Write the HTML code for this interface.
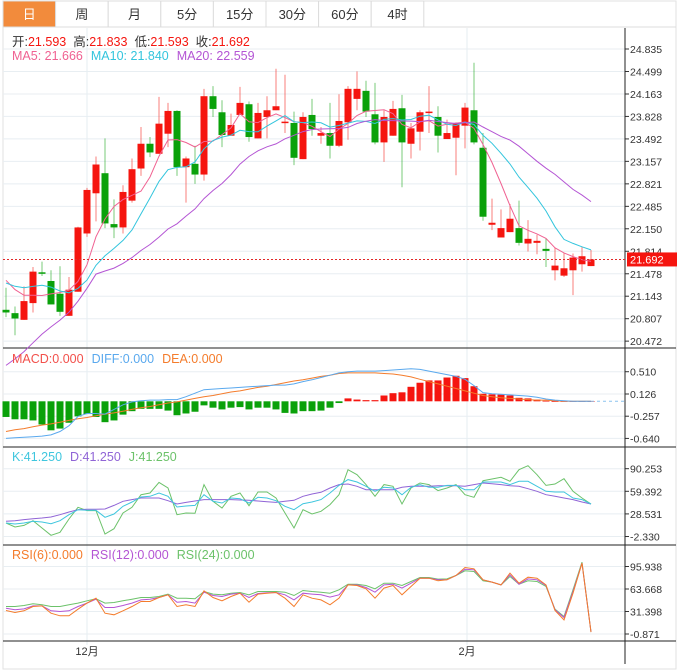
<!DOCTYPE html>
<html><head><meta charset="utf-8">
<style>
body{margin:0;background:#fff;font-family:"Liberation Sans","Noto Sans CJK SC",sans-serif;}
svg{display:block}
text{font-family:"Liberation Sans","Noto Sans CJK SC",sans-serif;}
</style></head><body>
<svg id="chart" width="678" height="672" viewBox="0 0 678 672" xmlns="http://www.w3.org/2000/svg">
<rect x="3" y="1" width="673" height="668" fill="#fff" stroke="#e2e2e2"/>
<g id="tabs"></g>
<g id="grid"></g>
<g id="marks"></g>
<g id="labels"></g>
</svg>
<script>
// ---- data ----
const prevCloses=[18.88,18.88,18.88,18.88,18.88,18.88,18.88,18.88,18.88,18.88,21.3,21.3,21.3,21.3,21.3,21.5,21.5,21.5,21.5];
const opens=[20.94,20.89,20.79,21.04,21.50,21.37,21.18,20.85,21.21,22.08,22.68,22.98,22.22,22.17,22.57,23.05,23.42,23.27,23.57,23.91,23.07,23.12,22.96,24.13,23.89,23.54,23.85,24.01,23.50,23.82,23.92,23.73,23.73,23.19,23.85,23.54,23.58,23.39,23.74,24.09,24.21,23.86,23.44,23.54,23.95,23.42,23.60,23.88,23.82,23.49,23.51,23.69,23.92,23.36,22.21,22.02,22.10,22.16,21.93,21.94,21.85,21.53,21.45,21.53,21.62,21.593];
const highs=[21.27,20.99,21.29,21.58,21.66,21.53,21.59,21.43,22.18,22.76,23.23,23.50,22.59,22.80,23.20,23.67,23.52,24.12,24.03,23.92,23.23,23.39,24.24,24.28,24.07,23.87,24.27,24.05,24.03,24.13,24.54,24.45,23.90,23.89,24.09,23.67,24.03,24.16,24.28,24.50,24.36,24.33,23.92,24.06,24.15,23.73,23.92,24.28,23.98,23.78,23.74,24.03,24.63,23.58,22.60,22.44,22.52,22.57,22.28,22.06,22.01,21.87,21.79,21.78,21.88,21.833];
const lows=[20.83,20.56,20.79,20.90,21.445,21.02,20.85,20.85,21.21,22.03,22.26,22.16,22.01,22.08,22.54,22.94,23.22,23.27,23.37,22.94,22.54,22.82,22.87,23.82,23.37,23.54,23.85,23.45,23.50,23.50,23.92,23.58,23.10,23.19,23.54,23.42,23.20,23.37,23.48,23.92,23.82,23.41,23.15,23.54,22.77,23.20,23.32,23.58,23.29,23.49,22.95,23.35,23.41,22.27,22.13,22.02,22.10,21.90,21.81,21.77,21.58,21.38,21.43,21.16,21.51,21.593];
const closes=[20.90,20.81,21.07,21.51,21.48,21.02,20.91,21.24,22.17,22.73,23.11,22.23,22.17,22.70,23.04,23.42,23.29,23.72,23.91,23.07,23.20,22.96,24.13,23.94,23.55,23.70,24.03,23.52,23.88,23.92,23.98,23.75,23.21,23.82,23.64,23.58,23.39,23.76,24.24,24.24,23.90,23.44,23.82,23.94,23.44,23.65,23.89,23.90,23.54,23.58,23.73,23.96,23.44,22.33,22.24,22.16,22.30,21.94,22.00,21.97,21.82,21.60,21.56,21.72,21.74,21.692];
const priceTicks=["24.835","24.499","24.163","23.828","23.492","23.157","22.821","22.485","22.150","21.814","21.478","21.143","20.807","20.472"];
const macdHist=[-0.27,-0.31,-0.31,-0.33,-0.40,-0.50,-0.47,-0.37,-0.26,-0.22,-0.27,-0.36,-0.33,-0.23,-0.17,-0.13,-0.13,-0.13,-0.16,-0.24,-0.21,-0.18,-0.07,-0.11,-0.14,-0.11,-0.10,-0.14,-0.11,-0.11,-0.14,-0.20,-0.21,-0.17,-0.17,-0.16,-0.11,-0.03,0.05,0.03,0.02,0.02,0.10,0.14,0.155,0.25,0.32,0.36,0.36,0.41,0.44,0.40,0.26,0.13,0.12,0.115,0.10,0.06,0.05,0.03,0.01,0.005,0.005,0.005,0.005,0.005];
const macdDiff=[-0.64,-0.63,-0.62,-0.61,-0.60,-0.58,-0.52,-0.42,-0.26,-0.21,-0.21,-0.22,-0.14,-0.06,-0.01,0.01,0.02,0.02,0.03,0.03,0.08,0.14,0.20,0.21,0.22,0.23,0.24,0.25,0.26,0.27,0.28,0.28,0.30,0.34,0.37,0.41,0.45,0.49,0.51,0.52,0.52,0.52,0.53,0.54,0.55,0.56,0.55,0.52,0.49,0.46,0.43,0.38,0.27,0.15,0.13,0.12,0.11,0.10,0.09,0.07,0.04,0.02,0.01,0,0,0];
const macdDea=[-0.52,-0.49,-0.47,-0.44,-0.41,-0.39,-0.36,-0.33,-0.30,-0.28,-0.25,-0.22,-0.20,-0.17,-0.14,-0.11,-0.09,-0.06,-0.03,-0.01,0.02,0.05,0.08,0.10,0.13,0.16,0.18,0.21,0.24,0.26,0.29,0.32,0.35,0.37,0.40,0.43,0.45,0.48,0.49,0.49,0.49,0.49,0.48,0.47,0.45,0.42,0.38,0.34,0.30,0.26,0.22,0.18,0.14,0.10,0.08,0.06,0.05,0.04,0.03,0.02,0.02,0.01,0,0,0,0];
const macdTicks=["0.510","0.126","-0.257","-0.640"];
const kVals=[16.1,14.8,16.1,18.4,17.5,15.2,19.3,27.5,34.3,33.4,33.4,23.9,28.4,38.9,44.8,51.6,52.5,57.1,52.5,38.0,39.3,40.2,54.8,45.7,43.4,50.3,49.3,43.4,51.2,50.3,46.6,38.9,34.3,42.5,44.8,48.0,57.1,67.5,75.3,72.1,66.2,59.4,64.8,63.9,54.8,64.8,68.5,64.8,64.8,67.5,67.5,61.6,61.6,72.1,72.1,72.1,68.5,73.0,73.0,66.2,59.4,58.4,58.4,50.3,48.0,42.1];
const dVals=[18.4,19.3,20.7,22.0,23.0,24.3,27.5,31.1,34.3,34.8,34.8,35.2,40.2,45.7,48.0,50.3,50.3,50.3,46.6,42.1,44.3,46.2,48.0,48.0,48.0,48.0,47.5,47.1,46.2,45.2,44.3,45.7,47.1,52.5,55.7,58.0,63.9,68.5,69.4,66.2,61.6,61.6,61.6,61.6,64.8,66.2,66.2,66.2,67.1,67.1,67.1,66.2,68.5,70.7,69.8,68.5,67.1,66.2,63.0,59.4,54.8,52.5,50.3,48.0,44.8,42.1];
const jVals=[16.1,10.7,12.9,19.3,9.3,-0.7,3.4,21.6,37.5,33.0,33.0,1.1,8.4,29.8,37.5,54.8,57.1,71.6,63.9,27.5,29.8,29.3,68.5,45.7,36.6,52.5,57.1,39.8,58.4,58.4,50.3,29.8,9.3,34.3,28.4,32.1,41.2,54.8,88.9,82.1,68.5,52.5,68.5,66.2,42.1,63.9,70.7,68.5,60.3,63.9,68.5,54.8,51.2,73.9,76.2,78.5,73.0,88.9,94.4,82.1,67.5,69.4,76.6,59.4,50.3,42.1];
const kdjTicks=["90.253","59.392","28.531","-2.330"];
const rsi6=[32.8,30.0,32.4,38.6,39.5,29.0,25.2,25.2,34.7,43.4,50.5,29.0,26.6,32.4,38.6,45.7,45.7,51.5,55.3,38.6,41.0,38.6,61.0,51.5,46.7,52.9,57.7,44.8,56.3,57.7,58.6,50.5,38.6,55.3,50.5,48.1,41.0,50.5,69.6,68.7,63.9,50.5,64.9,68.7,55.3,67.3,79.2,79.2,75.4,76.8,83.0,94.5,92.6,76.8,73.5,69.6,86.4,72.0,80.6,79.2,69.6,32.8,19.4,57.7,100.7,1.8];
const rsi12=[36.2,33.8,35.2,39.5,39.5,32.4,31.4,32.4,38.6,43.4,49.1,37.1,37.1,40.0,43.4,48.1,49.1,51.5,55.3,44.8,45.7,43.4,59.1,54.3,52.9,56.3,57.7,51.5,57.2,58.2,58.6,55.3,48.1,57.7,56.3,55.3,52.0,55.3,69.6,69.6,65.8,59.1,69.6,70.6,64.9,72.0,79.2,79.2,76.8,76.8,83.0,92.1,91.2,76.8,73.5,69.6,84.0,70.6,78.2,76.8,68.7,33.8,22.8,60.1,100.7,1.8];
const rsi24=[38.6,38.6,40.0,42.4,41.0,38.6,38.6,41.0,43.4,46.7,49.6,43.4,44.3,46.7,49.1,51.5,51.5,52.9,56.3,50.5,50.5,49.6,60.1,56.3,55.3,57.7,58.6,55.3,60.1,60.1,60.1,59.1,54.3,61.5,60.1,59.1,57.7,62.5,70.6,70.6,68.7,63.9,72.0,72.0,68.7,74.4,80.2,80.2,77.8,78.2,83.0,89.7,88.8,75.4,73.5,69.6,81.6,70.6,75.4,74.4,67.3,34.7,24.2,62.5,102.1,1.8];
const rsiTicks=["95.938","63.668","31.398","-0.871"];
const tabNames=["日","周","月","5分","15分","30分","60分","4时"];
const monthLabels=["12月","2月"];
const monthIdx=[9,51];

// ---- scales ----
const NS="http://www.w3.org/2000/svg";
const xAt=i=>6+9*i;
const yP=p=>49+(24.835-p)/0.014935;
const yM=v=>401.3-v*58;
const yK=v=>491.3-(v-59.392)/1.365;
const yR=v=>589-(v-63.668)/1.434;
function mk(parent,tag,attrs,txt){const e=document.createElementNS(NS,tag);for(const k in attrs)e.setAttribute(k,attrs[k]);if(txt!==undefined)e.textContent=txt;parent.appendChild(e);return e;}
const G=document.getElementById('grid'),M=document.getElementById('marks'),L=document.getElementById('labels'),T=document.getElementById('tabs');

// tabs
tabNames.forEach((n,i)=>{
  const x=3+i*52.6;
  const g=mk(T,'g',{});
  
  
  mk(g,'rect',{x:x,y:1,width:52.6,height:26,fill:i===0?'#f28b3c':'#fff',stroke:'#dcdcdc'});
  mk(g,'text',{x:x+26.3,y:19,'text-anchor':'middle','font-size':13,fill:i===0?'#fff':'#333'},n);
});
mk(T,'line',{x1:3,y1:27,x2:676,y2:27,stroke:'#dcdcdc'});

// info lines
const info=mk(L,'text',{x:12,y:46,'font-size':12.5});


[["开:","#333",0],["21.593","#f5150f",0],["高:","#333",7],["21.833","#f5150f",0],["低:","#333",7],["21.593","#f5150f",0],["收:","#333",7],["21.692","#f5150f",0]].forEach(([t,c,d])=>mk(info,'tspan',{fill:c,dx:d},t));
const maInfo=mk(L,'text',{x:12,y:60,'font-size':12.5});


mk(maInfo,'tspan',{fill:'#f06292'},'MA5: 21.666');
mk(maInfo,'tspan',{fill:'#33c5dd',dx:8},'MA10: 21.840');
mk(maInfo,'tspan',{fill:'#b455d4',dx:8},'MA20: 22.559');

function legend(y,items,name){const t=mk(L,'text',{x:12,y:y,'font-size':12.5});items.forEach(([s,c],k)=>mk(t,'tspan',{fill:c,dx:k?8:0},s));}
legend(363,[["MACD:0.000","#f2504b"],["DIFF:0.000","#5aa9ee"],["DEA:0.000","#f47c2c"]],'macd-legend');
legend(461,[["K:41.250","#3fc6de"],["D:41.250","#9064d6"],["J:41.250","#6cc26a"]],'kdj-legend');
legend(559,[["RSI(6):0.000","#f47c2c"],["RSI(12):0.000","#b455d4"],["RSI(24):0.000","#6cc26a"]],'rsi-legend');

// grids and ticks
function hgrid(ys,labels,name){ys.forEach((y,k)=>{mk(G,'line',{x1:3,y1:y,x2:625,y2:y,stroke:'#e8eef2'});mk(G,'line',{x1:625,y1:y,x2:629,y2:y,stroke:'#333'});const t=mk(L,'text',{x:630,y:y+4,'font-size':10.5,fill:'#333'},labels[k]);});}
hgrid(priceTicks.map(s=>yP(parseFloat(s))),priceTicks,'price-axis');
hgrid(macdTicks.map(s=>yM(parseFloat(s))),macdTicks,'macd-axis');
hgrid(kdjTicks.map(s=>yK(parseFloat(s))),kdjTicks,'kdj-axis');
hgrid(rsiTicks.map(s=>yR(parseFloat(s))),rsiTicks,'rsi-axis');
monthIdx.forEach((idx,k)=>{const x=xAt(idx)+(k?2:0);mk(G,'line',{x1:x,y1:28,x2:x,y2:645,stroke:'#e6eef2'});const t=mk(L,'text',{x:x,y:655,'font-size':11,fill:'#333','text-anchor':'middle'},monthLabels[k]);});
[348,447,545,641].forEach(y=>mk(G,'line',{x1:3,y1:y,x2:676,y2:y,stroke:'#222'}));
mk(G,'line',{x1:625,y1:28,x2:625,y2:664,stroke:'#222'});

// candles
const up='#f5150f',dn='#0aa10a';
closes.forEach((c,i)=>{
  const o=opens[i],col=c>=o?up:dn,x=xAt(i);
  const g=mk(M,'g',{});
  
  
  mk(g,'line',{x1:x,y1:yP(highs[i]),x2:x,y2:yP(lows[i]),stroke:col,'stroke-opacity':0.55});
  const t=Math.min(yP(o),yP(c)),h=Math.max(1.5,Math.abs(yP(o)-yP(c)));
  mk(g,'rect',{x:x-3.5,y:t,width:7,height:h,fill:col});
});
// moving averages
const all=prevCloses.concat(closes);
function ma(n){return closes.map((_,i)=>{const j=i+prevCloses.length;let s=0;for(let k=j-n+1;k<=j;k++)s+=all[k];return s/n;});}
function line(vals,yf,col,name,w){const p=vals.map((v,i)=>xAt(i).toFixed(1)+','+yf(v).toFixed(1)).join(' ');const e=mk(M,'polyline',{points:p,fill:'none',stroke:col,'stroke-width':w||1});}
line(ma(5),yP,'#f06292','ma5-line');
line(ma(10),yP,'#33c5dd','ma10-line');
line(ma(20),yP,'#b455d4','ma20-line');
// last price
const lp=closes[closes.length-1];
mk(M,'line',{x1:3,y1:yP(lp),x2:625,y2:yP(lp),stroke:'#e0282a','stroke-dasharray':'2,2'});
const pb=mk(L,'g',{});


mk(pb,'rect',{x:627,y:yP(lp)-7,width:50,height:14,fill:'#f5150f'});
mk(pb,'text',{x:630,y:yP(lp)+4,'font-size':11,fill:'#fff'},lp.toFixed(3));

// MACD
macdHist.forEach((v,i)=>{const r=mk(M,'rect',{x:xAt(i)-3.5,y:Math.min(yM(0),yM(v)),width:7,height:Math.max(0.8,Math.abs(yM(v)-yM(0))),fill:v>=0?up:dn});});
line(macdDea,yM,'#f47c2c','dea-line');
line(macdDiff,yM,'#5aa9ee','diff-line');
mk(M,'line',{x1:xAt(65),y1:yM(0),x2:625,y2:yM(0),stroke:'#8cc4ef','stroke-dasharray':'3,3'});
// KDJ
line(jVals,yK,'#6cc26a','j-line');
line(dVals,yK,'#9064d6','d-line');
line(kVals,yK,'#3fc6de','k-line');
// RSI
line(rsi24,yR,'#6cc26a','rsi24-line');
line(rsi12,yR,'#b455d4','rsi12-line');
line(rsi6,yR,'#f47c2c','rsi6-line');
</script>
</body></html>
